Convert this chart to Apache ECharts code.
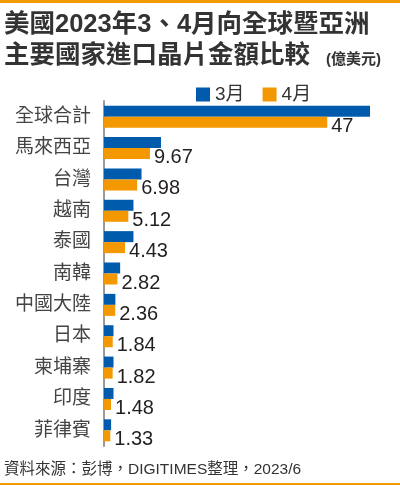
<html>
<head>
    <meta charset="utf-8">
    <script src="https://cdn.jsdelivr.net/npm/echarts@6/dist/echarts.min.js"></script>
    <style>
        html, body { margin: 0; padding: 0; background: #fff; }
        #main { width: 400px; height: 485px; }
    </style>
</head>
<body>
    <div id="main"></div>
    <script>
        var countries = ['全球合計', '馬來西亞', '台灣', '越南', '泰國', '南韓', '中國大陸', '日本', '柬埔寨', '印度', '菲律賓'];
        var march = [56, 12.0, 7.9, 6.2, 6.2, 3.4, 2.4, 2.0, 2.0, 2.0, 1.5];
        var april = [47, 9.67, 6.98, 5.12, 4.43, 2.82, 2.36, 1.84, 1.82, 1.48, 1.33];
        var aprilLabels = ['47', '9.67', '6.98', '5.12', '4.43', '2.82', '2.36', '1.84', '1.82', '1.48', '1.33'];

        var fontAll = "'Liberation Sans', 'Noto Sans CJK TC', sans-serif";
        var chart = echarts.init(document.getElementById('main'));
        var option = {
            animation: false,
            color: ['#005BAC', '#F39800'],
            legend: {
                left: 191,
                top: 80,
                itemWidth: 14,
                itemHeight: 14,
                itemGap: 18,
                icon: 'rect',
                textStyle: { fontSize: 19, color: '#333', fontFamily: fontAll },
                data: ['3月', '4月']
            },
            grid: {
                left: 104,
                right: 11,
                top: 101,
                bottom: 39,
                containLabel: false
            },
            xAxis: {
                type: 'value',
                min: 0,
                max: 60,
                show: false
            },
            yAxis: {
                type: 'category',
                inverse: true,
                data: countries,
                axisLine: { lineStyle: { color: '#999', width: 2 } },
                axisTick: { length: 5, lineStyle: { color: '#999', width: 1.5 } },
                axisLabel: { margin: 13, fontSize: 19, color: '#444', fontFamily: fontAll }
            },
            series: [
                {
                    name: '3月',
                    type: 'bar',
                    barWidth: 11,
                    barGap: 0,
                    data: march
                },
                {
                    name: '4月',
                    type: 'bar',
                    barWidth: 11,
                    barGap: 0,
                    data: april,
                    label: {
                        show: true,
                        position: 'right',
                        distance: 4,
                        offset: [0, 4],
                        fontSize: 20,
                        color: '#231f20',
                        fontFamily: fontAll,
                        formatter: function (p) { return aprilLabels[p.dataIndex]; }
                    }
                }
            ],
            graphic: [
                { type: 'rect', shape: { x: 0, y: 0, width: 400, height: 3 }, style: { fill: '#F39800' } },
                { type: 'rect', shape: { x: 0, y: 483, width: 400, height: 2 }, style: { fill: '#F39800' } },
                {
                    type: 'text', x: 4, y: 25,
                    style: { text: '美國2023年3、4月向全球暨亞洲', fill: '#333', font: 'bold 25.5px ' + fontAll, textVerticalAlign: 'middle' }
                },
                {
                    type: 'text', x: 4, y: 56,
                    style: { text: '主要國家進口晶片金額比較', fill: '#333', font: 'bold 25.5px ' + fontAll, textVerticalAlign: 'middle' }
                },
                {
                    type: 'text', x: 326, y: 60,
                    style: { text: '(億美元)', fill: '#333', font: 'bold 15px ' + fontAll, textVerticalAlign: 'middle' }
                },
                {
                    type: 'text', x: 4, y: 470,
                    style: { text: '資料來源：彭博，DIGITIMES整理，2023/6', fill: '#333', font: '15.5px ' + fontAll, textVerticalAlign: 'middle' }
                }
            ]
        };
        chart.setOption(option);
    </script>
</body>
</html>
